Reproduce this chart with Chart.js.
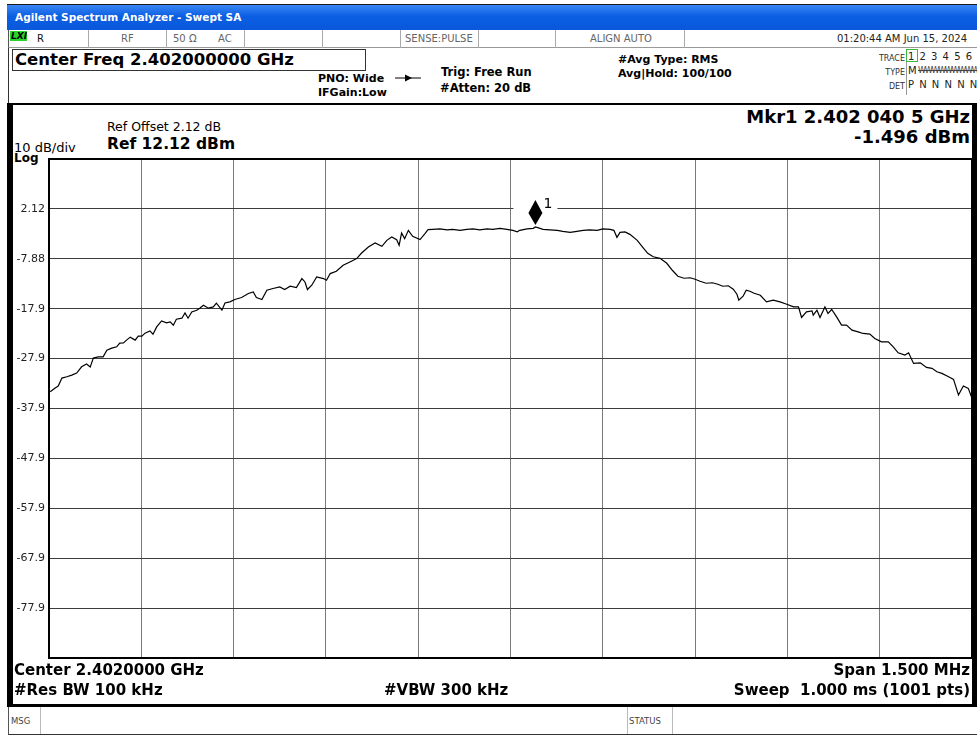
<!DOCTYPE html>
<html>
<head>
<meta charset="utf-8">
<script src="https://cdn.jsdelivr.net/npm/chart.js@4.4.1/dist/chart.umd.min.js"></script>
<style>
  body { margin: 0; background: #fff; }
  #screen { position: relative; width: 977px; height: 738px; overflow: hidden; background: #fff; font-family: "DejaVu Sans", sans-serif; }
  .t { position: absolute; white-space: nowrap; line-height: 1; color: #000; }
  .b { font-weight: bold; }
  .box { position: absolute; box-sizing: border-box; }
  .status { font-size: 10px; color: #666; }
</style>
</head>
<body>
<div id="screen">
  <!-- title bar -->
  <div class="box" style="left:7px;top:4px;width:970px;height:26px;background:linear-gradient(#3a86f4,#0b5ee3 45%,#0a58db);border-top:1px solid #1a1a1a;"></div>
  <div class="t b" style="left:15px;top:12px;font-size:10.5px;color:#fff;">Agilent Spectrum Analyzer - Swept SA</div>

  <!-- status row -->
  <div class="box" style="left:8px;top:30px;width:969px;height:18px;border-bottom:1px solid #999;border-left:1px solid #555;"></div>
  <div class="box" style="left:88px;top:30px;width:1px;height:18px;background:#aaa;"></div>
  <div class="box" style="left:166px;top:30px;width:1px;height:18px;background:#aaa;"></div>
  <div class="box" style="left:244px;top:30px;width:1px;height:18px;background:#aaa;"></div>
  <div class="box" style="left:322px;top:30px;width:1px;height:18px;background:#aaa;"></div>
  <div class="box" style="left:400px;top:30px;width:1px;height:18px;background:#aaa;"></div>
  <div class="box" style="left:478px;top:30px;width:1px;height:18px;background:#aaa;"></div>
  <div class="box" style="left:555px;top:30px;width:1px;height:18px;background:#aaa;"></div>
  <div class="box" style="left:684px;top:30px;width:1px;height:18px;background:#aaa;"></div>
  <div class="box" style="left:10px;top:31px;width:17px;height:10px;background:#2bd42b;"></div>
  <div class="t b" style="left:11px;top:32px;font-size:9px;font-style:italic;color:#000;">LXI</div>
  <div class="t" style="left:37px;top:34px;font-size:10px;color:#111;">R</div>
  <div class="t status" style="left:121px;top:34px;">RF</div>
  <div class="t status" style="left:173px;top:34px;">50 Ω</div>
  <div class="t status" style="left:218px;top:34px;">AC</div>
  <div class="t status" style="left:405px;top:34px;">SENSE:PULSE</div>
  <div class="t status" style="left:590px;top:34px;">ALIGN AUTO</div>
  <div class="t" style="right:10px;top:34px;font-size:10px;color:#222;">01:20:44 AM Jun 15, 2024</div>

  <!-- settings panel -->
  <div class="box" style="left:8px;top:48px;width:1px;height:56px;background:#333;"></div>
  <div class="box" style="left:12px;top:49px;width:354px;height:22px;border:1px solid #333;"></div>
  <div class="t b" style="left:15px;top:52px;font-size:16.5px;">Center Freq 2.402000000 GHz</div>
  <div class="t b" style="left:318px;top:73px;font-size:11px;">PNO: Wide</div>
  <div class="t b" style="left:318px;top:87px;font-size:11px;">IFGain:Low</div>
  <svg class="box" style="left:395px;top:74px;" width="26" height="8">
    <line x1="0" y1="4" x2="26" y2="4" stroke="#000" stroke-width="1"/>
    <polygon points="10,0.5 17,4 10,7.5" fill="#000"/>
  </svg>
  <div class="t b" style="left:441px;top:67px;font-size:11.5px;">Trig: Free Run</div>
  <div class="t b" style="left:440px;top:83px;font-size:11.5px;">#Atten: 20 dB</div>
  <div class="t b" style="left:618px;top:54px;font-size:11px;">#Avg Type: RMS</div>
  <div class="t b" style="left:618px;top:68px;font-size:11px;">Avg|Hold: 100/100</div>

  <div class="t" style="right:72px;top:55px;font-size:8px;color:#333;">TRACE</div>
  <div class="t" style="right:72px;top:69px;font-size:8px;color:#333;">TYPE</div>
  <div class="t" style="right:72px;top:83px;font-size:8px;color:#333;">DET</div>
  <div class="box" style="left:906px;top:49px;width:1px;height:46px;background:#999;"></div>
  <div class="box" style="left:906px;top:49px;width:12px;height:13px;border:1px solid #3cba3c;"></div>
  <div class="t" style="left:908px;top:52px;font-size:10px;color:#222;letter-spacing:1px;">1 2 3 4 5 6</div>
  <div class="t" style="left:908px;top:66px;font-size:10px;color:#222;">M</div>
  <div class="t" style="left:918px;top:67px;font-size:8px;color:#444;letter-spacing:-1.2px;text-decoration:line-through;">WWWWWWWWW</div>
  <div class="t" style="left:908px;top:80px;font-size:10px;color:#222;letter-spacing:1px;">P N N N N N</div>

  <!-- frame around the trace area -->
  <div class="box" style="left:7px;top:103px;width:970px;height:2px;background:#000;"></div>
  <div class="box" style="left:7px;top:104px;width:6px;height:602px;background:#000;"></div>
  <div class="box" style="left:972px;top:104px;width:5px;height:602px;background:#000;"></div>
  <div class="box" style="left:7px;top:704px;width:970px;height:3px;background:#000;"></div>

  <div class="t" style="left:107px;top:121px;font-size:12.5px;">Ref Offset 2.12 dB</div>
  <div class="t" style="left:14px;top:141px;font-size:13px;">10 dB/div</div>
  <div class="t b" style="left:107px;top:137px;font-size:15.5px;">Ref 12.12 dBm</div>
  <div class="t b" style="left:14px;top:152px;font-size:12px;">Log</div>
  <div class="t b" style="right:7px;top:108px;font-size:18px;">Mkr1 2.402 040 5 GHz</div>
  <div class="t b" style="right:7px;top:128px;font-size:18px;">-1.496 dBm</div>

  <canvas id="trace" width="964" height="507" style="position:absolute;left:13px;top:155px;"></canvas>

  <div class="t b" style="left:14px;top:663px;font-size:15px;">Center 2.4020000 GHz</div>
  <div class="t b" style="left:14px;top:683px;font-size:15px;">#Res BW 100 kHz</div>
  <div class="t b" style="left:384px;top:683px;font-size:15px;">#VBW 300 kHz</div>
  <div class="t b" style="right:7px;top:663px;font-size:15px;">Span 1.500 MHz</div>
  <div class="t b" style="right:7px;top:683px;font-size:15px;white-space:pre;">Sweep  1.000 ms (1001 pts)</div>

  <!-- message bar -->
  <div class="box" style="left:8px;top:707px;width:969px;height:28px;border-left:1px solid #555;border-bottom:1px solid #333;"></div>
  <div class="box" style="left:40px;top:707px;width:1px;height:27px;background:#bbb;"></div>
  <div class="box" style="left:627px;top:707px;width:1px;height:27px;background:#bbb;"></div>
  <div class="box" style="left:672px;top:707px;width:1px;height:27px;background:#bbb;"></div>
  <div class="t" style="left:11px;top:717px;font-size:8.5px;color:#444;">MSG</div>
  <div class="t" style="left:629px;top:717px;font-size:8.5px;color:#444;">STATUS</div>
</div>

<script>
// frequency offset from centre (kHz) and level (dBm) of the averaged trace
const traceKHz = [
  -748, -740, -735, -729, -721, -713, -705, -697, -689, -683, -678, -670, -662, -656, -648, -640,
  -635, -629, -624, -618, -610, -605, -599, -594, -586, -581, -575, -567, -559, -553, -548, -543,
  -534, -529, -524, -518, -510, -505, -499, -491, -483, -478, -469, -464, -456, -448, -437, -426,
  -418, -413, -404, -396, -386, -375, -367, -358, -348, -339, -334, -330, -323, -315, -304, -299,
  -293, -283, -272, -261, -250, -242, -231, -220, -209, -201, -193, -185, -181, -177, -172, -166,
  -159, -147, -139, -134, -126, -115, -103, -94, -82, -71, -61, -50, -38, -29, -17, -6,
  4, 11, 15, 27, 37, 40.5, 53, 64, 76, 85, 97, 108, 118, 129, 141, 150,
  162, 168, 173, 178, 186, 194, 206, 215, 223, 232, 243, 254, 263, 272, 282, 292,
  300, 308, 318, 328, 337, 345, 354, 362, 368, 371, 378, 383, 389, 396, 406, 416,
  427, 438, 449, 460, 468, 473, 481, 490, 492, 498, 503, 511, 516, 522, 530, 538,
  546, 555, 565, 573, 584, 592, 603, 614, 622, 630, 641, 647, 655, 666, 676, 685,
  693, 701, 712, 720, 728, 736, 744, 750
];
const traceDbm = [
  -34.52, -33.78, -33.38, -31.78, -31.52, -31.18, -30.78, -29.52, -28.98, -29.58, -27.78, -27.52, -27.52, -26.18, -25.78, -25.52,
  -24.78, -24.72, -24.18, -23.58, -24.18, -23.38, -23.38, -22.78, -22.32, -22.98, -21.52, -20.32, -20.72, -20.52, -21.18, -19.98,
  -19.78, -18.72, -19.78, -18.52, -18.18, -17.78, -17.18, -17.78, -17.52, -16.78, -18.18, -16.72, -16.52, -16.04, -15.64, -14.84,
  -14.52, -15.64, -16.04, -14.18, -13.84, -13.52, -14.04, -13.38, -13.64, -11.84, -12.52, -14.04, -13.18, -11.52, -11.84, -12.18,
  -10.84, -10.38, -9.18, -8.52, -7.84, -6.72, -5.52, -4.72, -5.38, -4.18, -3.52, -4.04, -5.18, -2.72, -3.84, -2.18,
  -3.38, -4.04, -2.84, -2.04, -1.98, -1.88, -2.08, -1.98, -2.18, -1.98, -1.88, -2.08, -1.88, -1.98, -1.78, -1.98,
  -2.18, -2.48, -2.18, -1.88, -1.78, -1.496, -1.98, -2.08, -2.18, -2.38, -2.58, -2.38, -2.18, -2.08, -2.18, -1.88,
  -1.98, -2.18, -3.58, -2.58, -2.48, -2.98, -4.18, -5.58, -6.78, -7.48, -7.78, -8.78, -10.18, -11.38, -11.78, -11.68,
  -11.98, -12.38, -12.78, -12.68, -12.98, -13.38, -13.28, -13.98, -14.98, -16.18, -15.38, -14.18, -14.38, -14.78, -15.18, -16.52,
  -16.18, -16.52, -16.98, -17.52, -17.52, -19.64, -18.52, -18.32, -19.18, -18.18, -19.64, -17.52, -18.84, -18.04, -19.52, -21.18,
  -21.18, -22.18, -22.52, -22.84, -22.98, -23.84, -24.52, -24.52, -25.52, -26.72, -27.18, -26.72, -28.84, -28.72, -29.64, -29.84,
  -30.52, -30.84, -31.52, -32.04, -35.18, -33.38, -33.84, -35.84
];

// marker 1
const markerKHz = 40.5;
const markerDbm = -1.496;

// graticule: 10 dB/div from the 12.12 dBm reference, 150 kHz/div over a 1.5 MHz span
const levelTicks = [-87.88, -77.88, -67.88, -57.88, -47.88, -37.88, -27.88, -17.88, -7.88, 2.12, 12.12];
const levelLabels = ['', '-77.9', '-67.9', '-57.9', '-47.9', '-37.9', '-27.9', '-17.9', '-7.88', '2.12', ''];
const freqTicks = [-750, -600, -450, -300, -150, 0, 150, 300, 450, 600, 750];

const points = traceKHz.map((f, i) => ({ x: f, y: traceDbm[i] }));

const frame = {
  id: 'frame',
  afterDraw(chart) {
    const a = chart.chartArea;
    const ctx = chart.ctx;
    ctx.save();
    ctx.strokeStyle = '#000';
    ctx.lineWidth = 2;
    ctx.strokeRect(a.left, a.top, a.right - a.left, a.bottom - a.top);
    ctx.restore();
  }
};

const marker = {
  id: 'marker',
  afterDatasetsDraw(chart) {
    const ctx = chart.ctx;
    const mx = chart.scales.x.getPixelForValue(markerKHz);
    const my = chart.scales.y.getPixelForValue(markerDbm);
    ctx.save();
    // clear the graticule behind the marker label
    ctx.fillStyle = '#fff';
    ctx.fillRect(mx - 22, my - 23, 44, 9);
    ctx.fillStyle = '#000';
    ctx.beginPath();
    ctx.moveTo(mx, my - 2);
    ctx.lineTo(mx - 7, my - 14);
    ctx.lineTo(mx, my - 27);
    ctx.lineTo(mx + 7, my - 14);
    ctx.closePath();
    ctx.fill();
    ctx.font = '14px "DejaVu Sans"';
    ctx.textBaseline = 'alphabetic';
    ctx.fillText('1', mx + 8, my - 19);
    ctx.restore();
  }
};

new Chart(document.getElementById('trace'), {
  type: 'line',
  data: {
    datasets: [{
      data: points,
      borderColor: '#000',
      borderWidth: 1.2,
      pointRadius: 0,
      tension: 0,
      fill: false
    }]
  },
  options: {
    responsive: false,
    animation: false,
    events: [],
    layout: { padding: { top: 4, bottom: 4, left: 0, right: 5 } },
    plugins: { legend: { display: false }, tooltip: { enabled: false } },
    scales: {
      x: {
        type: 'linear',
        min: -750,
        max: 750,
        afterBuildTicks: (sc) => { sc.ticks = freqTicks.map(v => ({ value: v })); },
        afterFit: (sc) => { sc.height = 0; sc.paddingLeft = 0; sc.paddingRight = 0; },
        ticks: { display: false },
        grid: { color: '#7a7a7a', drawTicks: false },
        border: { display: false }
      },
      y: {
        min: -87.88,
        max: 12.12,
        afterBuildTicks: (sc) => { sc.ticks = levelTicks.map(v => ({ value: v })); },
        afterFit: (sc) => { sc.width = 36; sc.paddingTop = 0; sc.paddingBottom = 0; },
        ticks: {
          autoSkip: false,
          padding: 4,
          color: '#222',
          font: { family: 'DejaVu Sans', size: 11 },
          callback: (v, i) => levelLabels[i]
        },
        grid: { color: '#3c3c3c', drawTicks: false },
        border: { display: false }
      }
    }
  },
  plugins: [frame, marker]
});
</script>
</body>
</html>
